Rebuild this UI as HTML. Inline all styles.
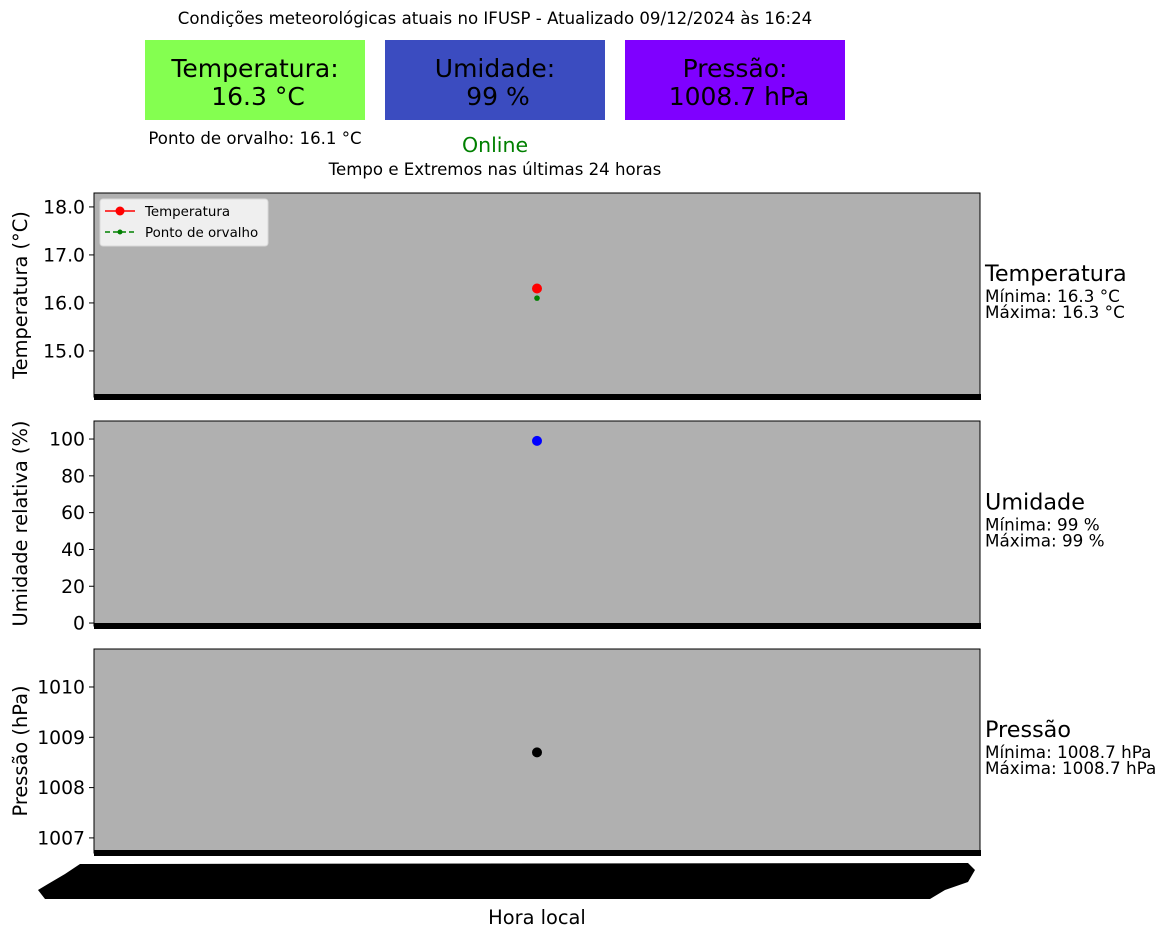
<!DOCTYPE html>
<html><head><meta charset="utf-8"><style>
html,body{margin:0;padding:0;background:#fff;}
svg{display:block;font-family:"DejaVu Sans","Liberation Sans",sans-serif;}
</style></head><body>
<svg id="chart" width="1164" height="939" viewBox="0 0 1164 939" xmlns="http://www.w3.org/2000/svg">
<text x="495" y="24" font-size="16.6" text-anchor="middle">Condições meteorológicas atuais no IFUSP - Atualizado 09/12/2024 às 16:24</text>
<g>
<rect x="145" y="40" width="220" height="80" fill="#84ff50"/>
<text x="255" y="77" font-size="25" text-anchor="middle">Temperatura:</text>
<text x="258" y="105" font-size="25" text-anchor="middle">16.3 °C</text>
</g>
<g>
<rect x="385" y="40" width="220" height="80" fill="#3b4cc0"/>
<text x="495" y="77" font-size="25" text-anchor="middle">Umidade:</text>
<text x="498" y="105" font-size="25" text-anchor="middle">99 %</text>
</g>
<g>
<rect x="625" y="40" width="220" height="80" fill="#7f00ff"/>
<text x="735" y="77" font-size="25" text-anchor="middle">Pressão:</text>
<text x="739" y="105" font-size="25" text-anchor="middle">1008.7 hPa</text>
</g>
<text x="255" y="144" font-size="16.6" text-anchor="middle">Ponto de orvalho: 16.1 °C</text>
<text x="495" y="152" font-size="20.5" fill="#008000" text-anchor="middle">Online</text>
<text x="495" y="175" font-size="16.6" text-anchor="middle">Tempo e Extremos nas últimas 24 horas</text>
<g id="panels"></g>
<polygon fill="#000" points="80,864 968,863 975,870 968,882 945,890 930,899 45,899 38,890 48,884 65,874"/>
<text x="537" y="924" font-size="19.4" text-anchor="middle">Hora local</text>
</svg>
<script>
const tempValues = [16.3];
const dewValues = [16.1];
const humidityValues = [99];
const pressureValues = [1008.7];
const timeIndex = [0.5];
const tempTicks = ["15.0","16.0","17.0","18.0"];
const humTicks = ["0","20","40","60","80","100"];
const presTicks = ["1007","1008","1009","1010"];

const NS = "http://www.w3.org/2000/svg";
const g = document.getElementById("panels");
function mk(tag, attrs, parent){const e=document.createElementNS(NS,tag);for(const k in attrs)e.setAttribute(k,attrs[k]);(parent||g).appendChild(e);return e;}
const L=94,R=980;
function xs(t){return L+(R-L)*t;}
function panel(name, top, bot, vmin, vmax, ticks, ylabel, title, minTxt, maxTxt){
  const y=v=>bot-(v-vmin)/(vmax-vmin)*(bot-top);
  const grp=mk("g",{});
  
  
  mk("rect",{x:L,y:top,width:R-L,height:bot-top,fill:"#b0b0b0",stroke:"#000","stroke-width":1},grp);
  mk("rect",{x:L,y:bot-3,width:R-L+1,height:6,fill:"#000"},grp);
  ticks.forEach(t=>{const v=parseFloat(t);const yy=y(v);
    mk("line",{x1:L-5,x2:L,y1:yy,y2:yy,stroke:"#000"},grp);
    const tx=mk("text",{x:L-9,y:yy+6.5,"font-size":18.8,"text-anchor":"end"},grp);tx.textContent=t;
    
    
  });
  const cy=(top+bot)/2;
  const yl=mk("text",{x:0,y:0,"font-size":19.4,"text-anchor":"middle",transform:`translate(27,${cy}) rotate(-90)`},grp);yl.textContent=ylabel;
  
  
  const t1=mk("text",{x:985,y:cy-14,"font-size":22.3},grp);t1.textContent=title;
  
  
  const t2=mk("text",{x:985,y:cy+7,"font-size":16.8},grp);t2.textContent=minTxt;
  
  
  const t3=mk("text",{x:985,y:cy+23,"font-size":16.8},grp);t3.textContent=maxTxt;
  
  
  return {y,grp};
}
const p1=panel("temperature",193,397,14.04,18.29,tempTicks,"Temperatura (°C)","Temperatura","Mínima: 16.3 °C","Máxima: 16.3 °C");
tempValues.forEach((v,i)=>{const c=mk("circle",{cx:xs(timeIndex[i]),cy:p1.y(v),r:5,fill:"#ff0000"},p1.grp);
  
  });
dewValues.forEach((v,i)=>{const c=mk("circle",{cx:xs(timeIndex[i]),cy:p1.y(v),r:2.8,fill:"#008000"},p1.grp);
  
  });
const lg=mk("g",{},p1.grp);


mk("rect",{x:100,y:199,width:168,height:47,rx:3,fill:"#efefef",stroke:"#d8d8d8"},lg);
mk("line",{x1:105,x2:135,y1:211,y2:211,stroke:"#ff0000","stroke-width":1.5},lg);
mk("circle",{cx:120,cy:211,r:4.5,fill:"#ff0000"},lg);
const l1=mk("text",{x:145,y:216,"font-size":13.4},lg);l1.textContent="Temperatura";


mk("line",{x1:105,x2:135,y1:232,y2:232,stroke:"#008000","stroke-width":1.5,"stroke-dasharray":"5,3"},lg);
mk("circle",{cx:120,cy:232,r:2.5,fill:"#008000"},lg);
const l2=mk("text",{x:145,y:237,"font-size":13.4},lg);l2.textContent="Ponto de orvalho";



const p2=panel("humidity",421,626,-1.6,109.8,humTicks,"Umidade relativa (%)","Umidade","Mínima: 99 %","Máxima: 99 %");
humidityValues.forEach((v,i)=>{const c=mk("circle",{cx:xs(timeIndex[i]),cy:p2.y(v),r:5,fill:"#0000ff"},p2.grp);
  
  });
const p3=panel("pressure",649,853,1006.7,1010.755,presTicks,"Pressão (hPa)","Pressão","Mínima: 1008.7 hPa","Máxima: 1008.7 hPa");
pressureValues.forEach((v,i)=>{const c=mk("circle",{cx:xs(timeIndex[i]),cy:p3.y(v),r:5,fill:"#000"},p3.grp);
  
  });
</script>
</body></html>
